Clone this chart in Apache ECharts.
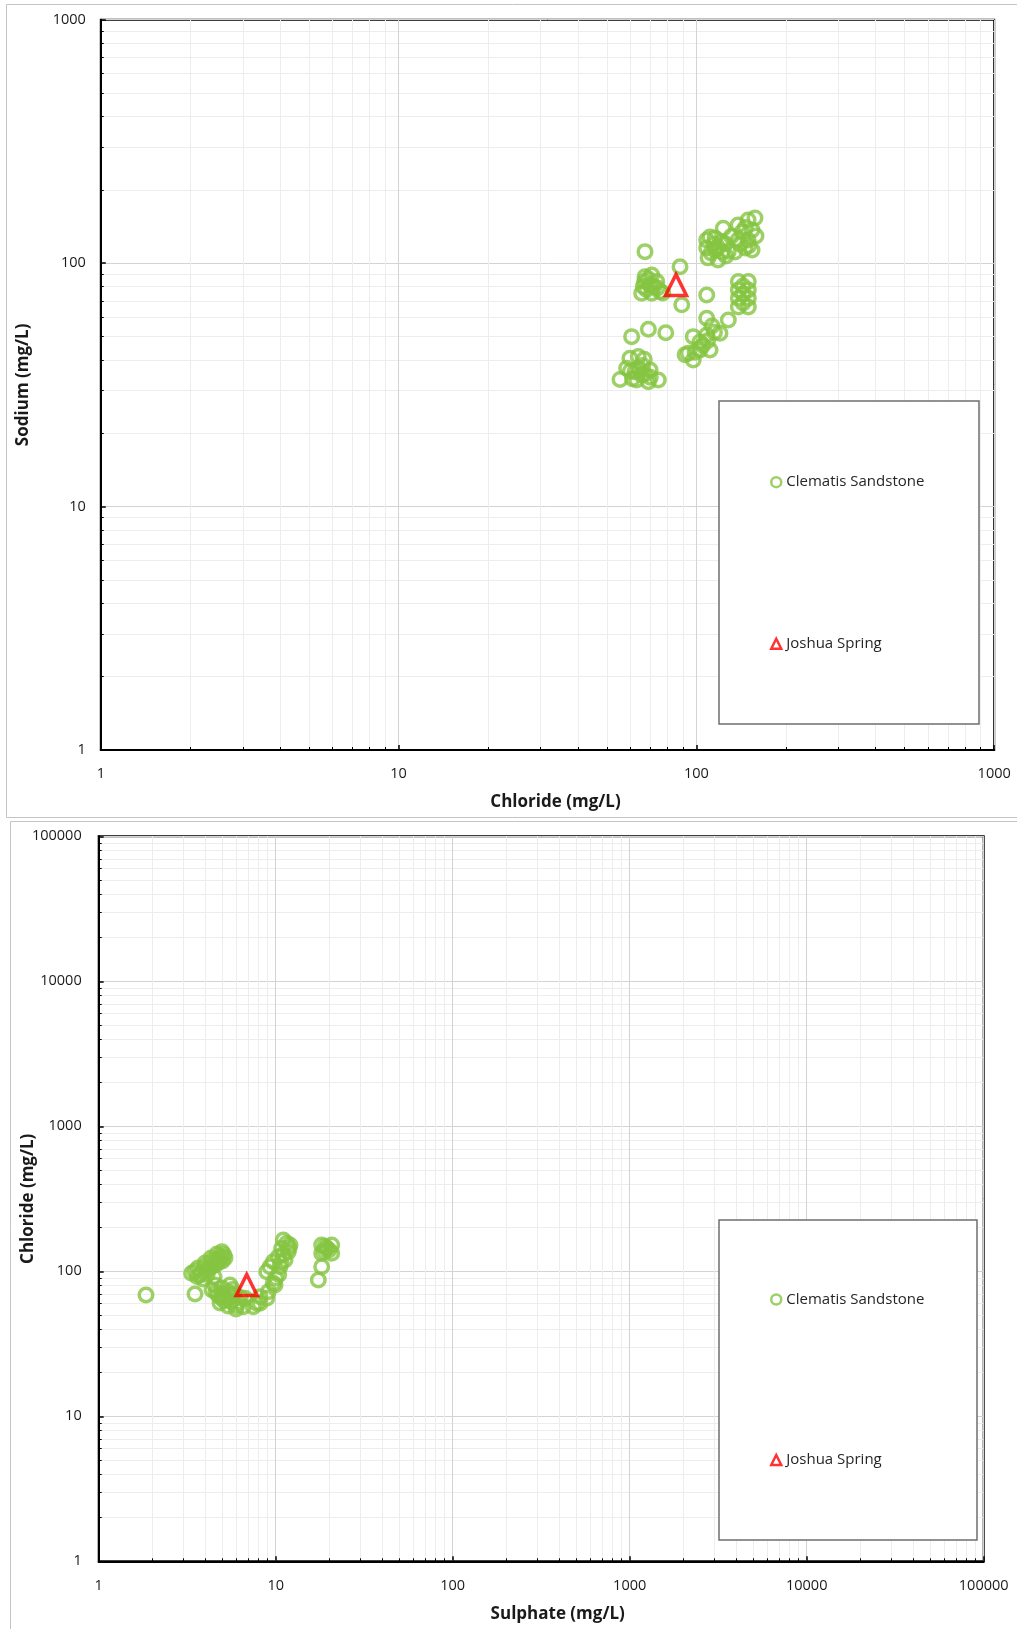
<!DOCTYPE html>
<html><head><meta charset="utf-8">
<script src="https://cdn.jsdelivr.net/npm/echarts@6/dist/echarts.min.js"></script>
<style>html,body{margin:0;padding:0;background:#fff}#c{width:1017px;height:1629px}</style>
</head><body><div id="c"></div>
<script>
const seriesNames = ['Clematis Sandstone', 'Joshua Spring'];
const topTicks = ['1', '10', '100', '1000'];
const bottomTicks = ['1', '10', '100', '1000', '10000', '100000'];

// Chart 1: Chloride (x) vs Sodium (y), mg/L
const clematisClNa = [
  [67.2,111.5],[88.1,96.7],[67.2,88.0],[70.8,89.4],[66.3,80.1],[69.9,81.4],[73.6,84.0],[65.5,75.2],[70.8,75.2],[75.5,76.4],[77.1,75.4],[89.3,67.4],[108.3,74.0],
  [68,78],[72,80],[67,84],[74,79],[69,86],
  [60.6,49.9],[69.0,53.5],[78.9,51.8],[59.8,40.7],[63.8,41.3],[66.8,40.3],[55.4,33.3],[58.3,37.0],[62.2,35.8],[65.5,34.7],[69.9,36.4],[74.5,33.1],[69.0,32.6],[63.0,33.1],[66.0,38.0],
  [60,36],[64,37],[67,35],[61,33.5],[70,34],
  [108.3,59.4],[128.0,58.4],[97.6,49.9],[108.3,50.7],[120.0,51.5],[93.9,42.6],[102.8,44.0],[111.1,44.0],[97.6,40.0],[102.8,47.4],[112.8,55.2],[91.6,42.0],
  [105,46],[109,48],[115,52],[99,43],
  [138.3,84.0],[149.4,84.0],[143.4,80.6],[138.3,77.6],[149.4,77.6],[143.4,74.7],[138.3,71.8],[149.4,71.8],[143.4,68.6],[138.3,66.1],[149.4,66.1],
  [108.3,124.5],[115.5,126.9],[121.9,122.2],[108.3,115.5],[115.5,113.3],[121.9,111.2],[109.4,105.1],[118.2,103.1],[125.7,107.1],[114.6,119.9],
  [138.0,143.5],[149.1,150.5],[157.3,153.4],[142.3,134.3],[153.8,136.9],[138.0,124.5],[149.1,124.5],[158.5,129.3],[145.6,115.5],[134.8,111.2],[153.8,113.3],[123.1,139.2],
  [112,110],[118,116],[125,120],[131,129],[140,120],[150,118],[146,140],[128,112],[111,128]
];
const joshuaClNa = [[85.4,81.4]];

// Chart 2: Sulphate (x) vs Chloride (y), mg/L
const clematisSo4Cl = [
  [1.85,68.6],[3.50,69.7],
  [3.35,96.9],[3.64,105.4],[3.99,114.0],[4.31,123.5],[4.66,131.6],[4.97,136.5],[3.73,94.3],[4.09,102.1],[4.42,108.8],[4.78,115.9],[5.17,123.5],[4.48,91.8],[3.88,88.5],
  [3.5,100],[3.8,98],[4.0,108],[4.2,104],[4.6,112],[4.4,118],[4.9,126],[4.7,121],[5.1,130],[3.6,92],[4.1,95],[5.0,118],
  [4.54,80.4],[4.97,76.7],[5.52,80.4],[4.72,68.6],[5.24,65.5],[5.81,69.7],[4.85,60.4],[5.38,57.6],[6.12,61.4],[6.56,57.0],[6.71,65.1],[5.97,55.0],[4.37,74.3],
  [4.6,72],[5.0,70],[5.4,72],[5.1,63],[5.6,62],[5.7,75],[6.3,66],[6.0,58],[4.9,66],[5.5,68],
  [8.15,60.2],[9.08,72.3],[9.91,80.4],[7.47,57.0],[8.90,65.1],
  [11.54,156.0],[10.81,144.1],[10.34,126.1],[9.69,116.5],[9.29,107.6],[8.90,99.4],[11.78,136.5],[11.29,119.7],[10.57,107.6],[9.69,82.6],[8.15,66.8],[7.81,60.2],[11.04,164.4],[12.04,151.9],
  [10.0,90],[10.4,95],[11.0,130],[11.9,145],[10.7,115],
  [18.19,151.9],[20.72,151.9],[18.19,133.1],[20.72,133.1],[19.42,144.1],[18.19,107.6],[17.41,87.1],
  [19.0,148],[20.0,140],[18.8,138]
];
const joshuaSo4Cl = [[6.86,80.4]];

const FONT = '"Open Sans", "Noto Sans", sans-serif';
const GREEN = '#84C441';
const RED = '#FF0000';

function logAxis(gridIndex, ticks, name, nameGap, margin, namePad) {
  return {
    type: 'log', logBase: 10, gridIndex: gridIndex,
    min: Number(ticks[0]), max: Number(ticks[ticks.length - 1]),
    name: name, nameLocation: 'middle', nameGap: nameGap, nameMoveOverlap: false,
    nameTextStyle: { fontFamily: FONT, fontWeight: 'bold', fontSize: 17, color: '#1a1a1a', padding: namePad || 0 },
    axisLine: { show: true, onZero: false, lineStyle: { color: '#000', width: 2 } },
    axisTick: { show: true, inside: true, length: 5, lineStyle: { color: '#000', width: 1.5 } },
    minorTick: { show: true, splitNumber: 9, length: 3, lineStyle: { color: '#000', width: 1 } },
    splitLine: { show: true, lineStyle: { color: '#d3d3d3', width: 1 } },
    minorSplitLine: { show: true, lineStyle: { color: '#ededed', width: 1 } },
    axisLabel: { fontFamily: FONT, fontSize: 14.5, color: '#1a1a1a', margin: margin,
      formatter: function (v) { return String(Math.round(v)); } }
  };
}

function legendFor(top, gap) {
  return {
    orient: 'vertical', left: 770, top: top, itemGap: gap, itemWidth: 10, itemHeight: 10,
    padding: 0, z: 10,
    textStyle: { fontFamily: FONT, fontSize: 15, color: '#262626' },
    data: [
      { name: seriesNames[0], icon: 'circle', itemStyle: { color: '#fff', borderColor: GREEN, borderWidth: 2.5 } },
      { name: seriesNames[1], icon: 'triangle', itemStyle: { color: '#fff', borderColor: RED, borderWidth: 2.5 } }
    ]
  };
}

function circles(name, data, xi) {
  return { type: 'scatter', name: name, xAxisIndex: xi, yAxisIndex: xi, data: data,
    symbol: 'circle', symbolSize: 13.5, z: 2,
    itemStyle: { color: 'rgba(0,0,0,0)', borderColor: GREEN, borderWidth: 3.5 } };
}
function triangles(name, data, xi) {
  return { type: 'scatter', name: name, xAxisIndex: xi, yAxisIndex: xi, data: data,
    symbol: 'triangle', symbolSize: 21, z: 3,
    itemStyle: { color: 'rgba(0,0,0,0)', borderColor: RED, borderWidth: 3.5 } };
}

const chart = echarts.init(document.getElementById('c'), null, { renderer: 'canvas' });
chart.setOption({
  animation: false,
  backgroundColor: '#fff',
  grid: [
    { left: 100.8, top: 19.7, width: 893.4, height: 730.3, show: true, borderColor: '#000', borderWidth: 2, backgroundColor: 'transparent', containLabel: false, outerBoundsMode: 'none' },
    { left: 98.7, top: 836.3, width: 885, height: 725, show: true, borderColor: '#000', borderWidth: 2, backgroundColor: 'transparent', containLabel: false, outerBoundsMode: 'none' }
  ],
  xAxis: [
    logAxis(0, topTicks, 'Chloride (mg/L)', 44, 16, [0, 0, 0, 16]),
    logAxis(1, bottomTicks, 'Sulphate (mg/L)', 44, 17, [0, 0, 0, 33])
  ],
  yAxis: [
    logAxis(0, topTicks, 'Sodium (mg/L)', 69, 15),
    logAxis(1, bottomTicks, 'Chloride (mg/L)', 62, 17)
  ],
  legend: [legendFor(474.7, 146.5), legendFor(1292, 145.5)],
  graphic: [
    { type: 'rect', shape: { x: 6.5, y: 4.5, width: 1020, height: 813 }, style: { fill: 'none', stroke: '#c4c4c4', lineWidth: 1 }, z: 1, silent: true },
    { type: 'rect', shape: { x: 10.5, y: 821.5, width: 1020, height: 820 }, style: { fill: 'none', stroke: '#c4c4c4', lineWidth: 1 }, z: 1, silent: true },
    { type: 'rect', shape: { x: 719, y: 401, width: 260, height: 323 }, style: { fill: '#fff', stroke: '#6f6f6f', lineWidth: 1.5 }, z: 5, silent: true },
    { type: 'rect', shape: { x: 719, y: 1220, width: 258, height: 320 }, style: { fill: '#fff', stroke: '#6f6f6f', lineWidth: 1.5 }, z: 5, silent: true }
  ],
  series: [
    circles(seriesNames[0], clematisClNa, 0),
    triangles(seriesNames[1], joshuaClNa, 0),
    circles(seriesNames[0], clematisSo4Cl, 1),
    triangles(seriesNames[1], joshuaSo4Cl, 1)
  ]
});
</script>
</body></html>
